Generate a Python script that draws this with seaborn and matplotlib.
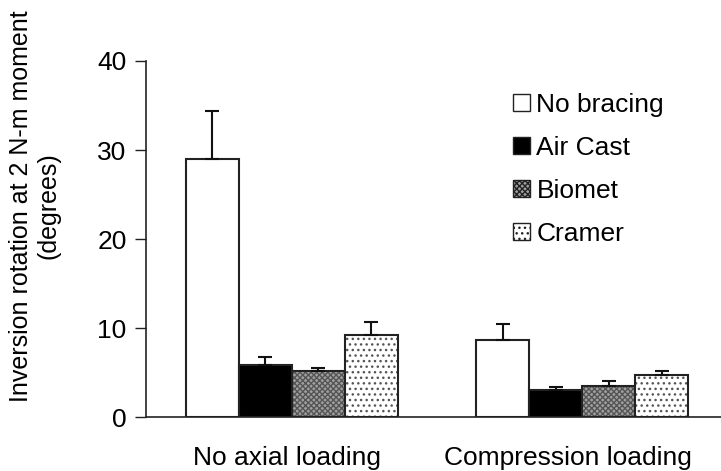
import matplotlib
matplotlib.use("Agg")
import matplotlib.pyplot as plt
import seaborn as sns
import pandas as pd
import numpy as np
from matplotlib.patches import Patch

conditions = ["No axial loading", "Compression loading"]
braces = ["No bracing", "Air Cast", "Biomet", "Cramer"]
means_no_axial = [29.0, 5.8, 5.2, 9.2]
errs_no_axial = [5.4, 0.9, 0.3, 1.5]
means_compression = [8.7, 3.0, 3.5, 4.7]
errs_compression = [1.8, 0.4, 0.6, 0.5]
yticks = [0, 10, 20, 30, 40]

rows = []
for b, m, e in zip(braces, means_no_axial, errs_no_axial):
    rows.append({"condition": conditions[0], "brace": b, "mean": m, "err": e})
for b, m, e in zip(braces, means_compression, errs_compression):
    rows.append({"condition": conditions[1], "brace": b, "mean": m, "err": e})
df = pd.DataFrame(rows)

sns.set_style("white")
plt.rcParams["font.family"] = ["Liberation Sans", "DejaVu Sans"]
plt.rcParams["hatch.linewidth"] = 1.0
plt.rcParams["text.color"] = "black"
plt.rcParams["axes.labelcolor"] = "black"
plt.rcParams["xtick.color"] = "black"
plt.rcParams["ytick.color"] = "black"

fig = plt.figure(figsize=(7.21, 4.71), dpi=100)
ax = fig.add_axes([0.2025, 0.1146, 0.7975, 0.7559])

faces = {"No bracing": "white", "Air Cast": "black", "Biomet": "#a0a0a0", "Cramer": "white"}
hatches = {"No bracing": None, "Air Cast": None, "Biomet": "xxxxxx", "Cramer": "..."}
hatch_colors = {"Biomet": "#555555", "Cramer": "#555555"}

sns.barplot(data=df, x="condition", y="mean", hue="brace", order=conditions,
            hue_order=braces, palette=faces, width=0.73, errorbar=None,
            edgecolor="#222222", linewidth=1.5, ax=ax, legend=False, saturation=1)

for cont, b in zip(ax.containers, braces):
    errs = df[df["brace"] == b].set_index("condition").loc[conditions, "err"].values
    for bar, e in zip(cont, errs):
        if hatches[b]:
            bar.set_hatch(hatches[b])
            bar._hatch_color = matplotlib.colors.to_rgba(hatch_colors[b])
        xc = bar.get_x() + bar.get_width() / 2
        h = bar.get_height()
        ax.errorbar(xc, h, yerr=[[0], [e]], fmt="none", ecolor="#111111",
                    elinewidth=1.5, capsize=5, capthick=1.5, zorder=1)

ax.set_ylim(0, 40)
ax.set_yticks(yticks)
ax.set_xlim(-0.502, 1.478)
ax.set_xticks([-0.018, 0.95], conditions)
ax.set_xlabel("")
ax.set_ylabel("Inversion rotation at 2 N-m moment\n(degrees)", fontsize=18, color="black")
ax.yaxis.set_label_coords(-0.148, 0.593)
ax.tick_params(axis="y", labelsize=19, length=8, width=1, color="#222222", left=True, pad=6,
               labelcolor="black")
ax.tick_params(axis="x", labelsize=19, length=0, pad=21, labelcolor="black")
sns.despine(ax=ax)
for s in ["left", "bottom"]:
    ax.spines[s].set_color("#222222")
    ax.spines[s].set_linewidth(1.2)

handles = []
for b in braces:
    p = Patch(facecolor=faces[b], edgecolor="#222222", hatch=hatches[b], linewidth=1, label=b)
    handles.append(p)
leg = ax.legend(handles=handles, loc="upper left", bbox_to_anchor=(0.639, 0.911), frameon=False,
                fontsize=19, handlelength=0.62, handleheight=0.62, handletextpad=0.25,
                labelspacing=0.72, borderaxespad=0, borderpad=0, labelcolor="black")

fig.savefig("out.png", dpi=100)
